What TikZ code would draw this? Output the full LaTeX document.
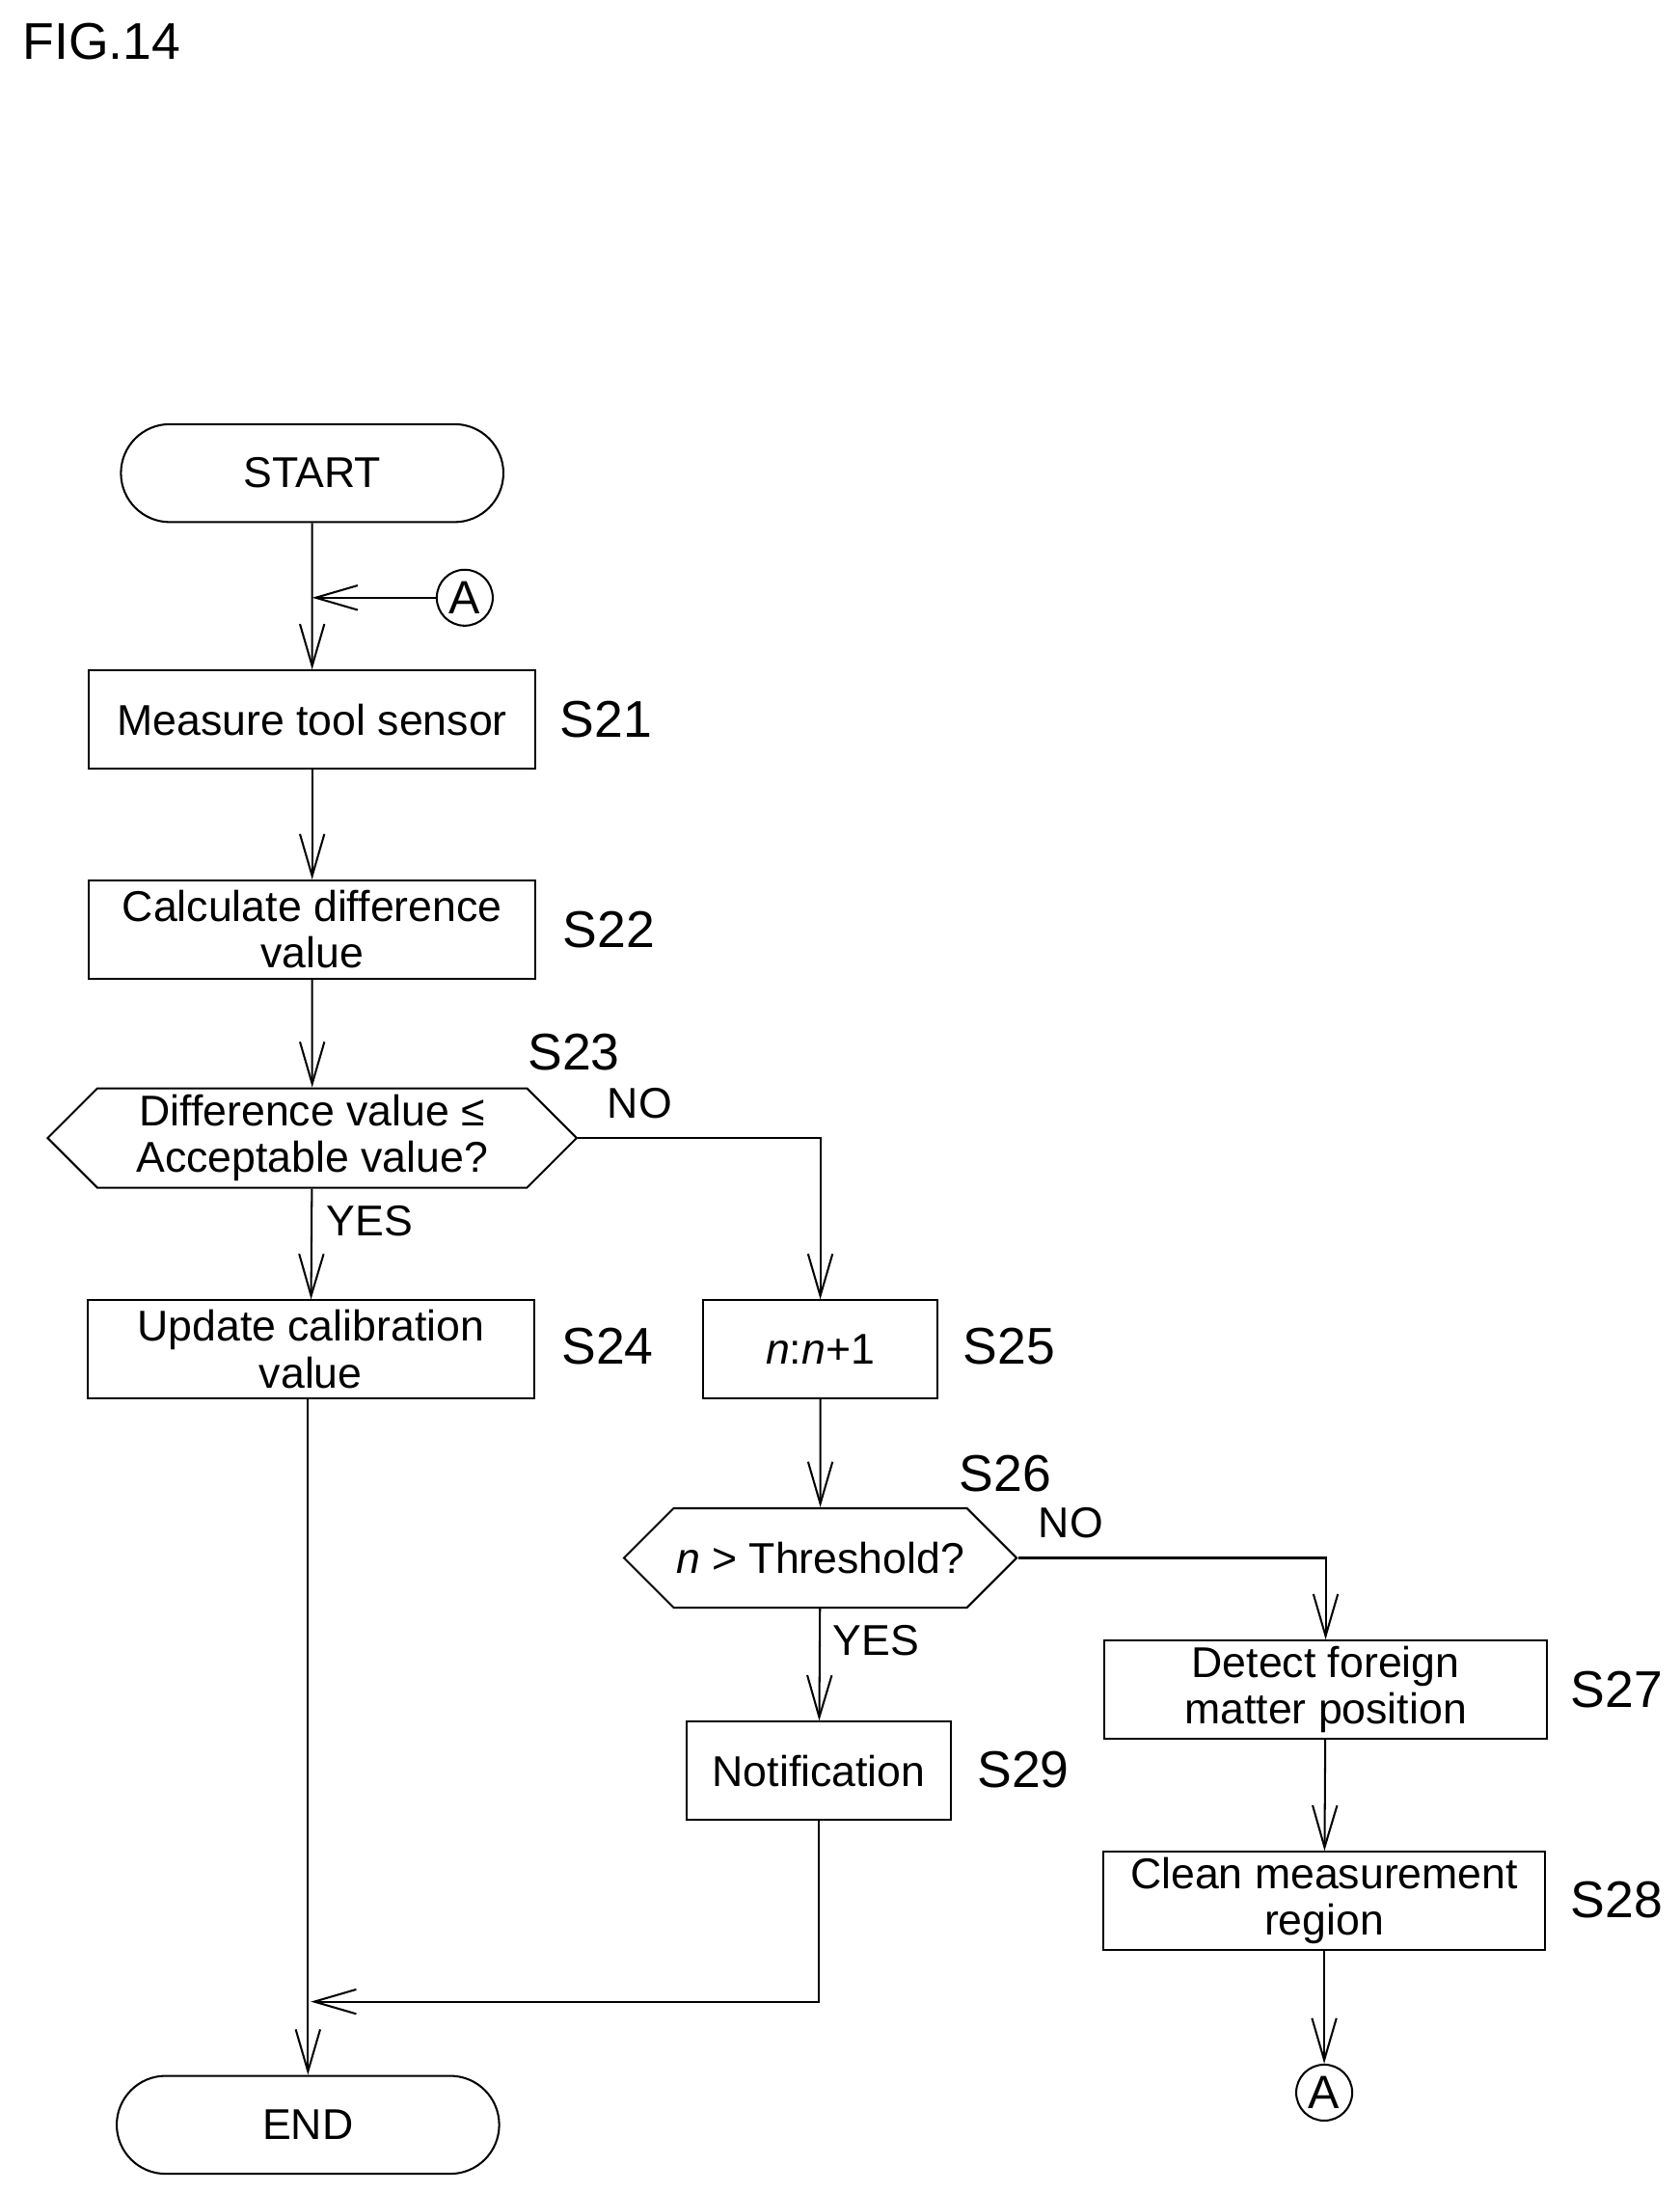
\documentclass[tikz,border=0pt]{standalone}
\usepackage{fontspec}
\setmainfont{Liberation Sans}
\usetikzlibrary{shapes.misc,shapes.symbols,arrows.meta}
\tikzset{
  box/.style={draw, thick, minimum width=6.38cm, minimum height=1.4cm, align=center, inner sep=2pt, font=\fontsize{17.5}{19}\selectfont},
  term/.style={draw, thick, rounded rectangle, minimum width=5.7cm, minimum height=1.4cm, font=\fontsize{17.5}{19}\selectfont},
  dec/.style={draw, thick, signal, signal to=east and west, signal pointer angle=90, minimum height=1.42cm, align=center, inner sep=1pt, font=\fontsize{17.5}{19}\selectfont},
  con/.style={draw, thick, circle, minimum size=0.8cm, inner sep=0pt, font=\fontsize{19}{21}\selectfont},
  steplbl/.style={font=\fontsize{21}{23}\selectfont},
  lbl/.style={font=\fontsize{17.5}{19}\selectfont},
  flow/.style={thick, -{Straight Barb[length=0.6cm, width=0.35cm]}}
}
\begin{document}
\begin{tikzpicture}[x=0.02cm, y=-0.02cm]
  \useasboundingbox (0,0) rectangle (1200,1566);
  \node[anchor=west, font=\fontsize{21}{23}\selectfont] (fig) at (10,30) {FIG.14};

  % left branch
  \node[term] (start) at (223,338) {START};
  \node[con] (a1) at (332,427) {A};
  \node[box] (s21) at (223,514) {Measure tool sensor};
  \node[box] (s22) at (223,664) {Calculate difference\\value};
  \node[dec, minimum width=7.56cm] (s23) at (223,813) {Difference value ≤\\Acceptable value?};
  \node[box] (s24) at (222,964) {Update calibration\\value};
  \node[term] (end) at (220,1518) {END};

  % right branches
  \node[box, minimum width=3.34cm] (s25) at (586,964) {\textit{n}:\textit{n}+1};
  \node[dec, minimum width=5.42cm] (s26) at (586,1113) {\textit{n} > Threshold?};
  \node[box, minimum width=3.78cm] (s29) at (585,1265) {Notification};
  \node[box, minimum width=6.32cm] (s27) at (947,1207) {Detect foreign\\matter position};
  \node[box, minimum width=6.32cm] (s28) at (946,1358) {Clean measurement\\region};
  \node[con] (a2) at (946,1495) {A};

  % step labels
  \node[steplbl] (l21) at (433,514) {S21};
  \node[steplbl] (l22) at (435,664) {S22};
  \node[steplbl] (l23) at (410,752) {S23};
  \node[steplbl] (l24) at (434,962) {S24};
  \node[steplbl] (l25) at (721,962) {S25};
  \node[steplbl] (l26) at (718,1053) {S26};
  \node[steplbl] (l27) at (1155,1207) {S27};
  \node[steplbl] (l28) at (1155,1357) {S28};
  \node[steplbl] (l29) at (731,1264) {S29};
  \node[lbl] (no1) at (457,788) {NO};
  \node[lbl] (yes1) at (264,872) {YES};
  \node[lbl] (no2) at (765,1088) {NO};
  \node[lbl] (yes2) at (626,1172) {YES};

  \coordinate (j1) at (223,427);
  \coordinate (j2) at (222,1430);
  \draw[flow] (start) -- (s21);
  \draw[flow] (a1) -- (j1);
  \draw[flow] (s21) -- (s22);
  \draw[flow] (s22) -- (s23);
  \draw[flow] (s23) -- (s24);
  \draw[flow] (s23.east) -| (s25);
  \draw[flow] (s25) -- (s26);
  \draw[flow] (s26) -- (s29);
  \draw[flow] (s26.east) -| (s27);
  \draw[flow] (s27) -- (s28);
  \draw[flow] (s28) -- (a2);
  \draw[flow] (s24.south -| end.north) -- (end.north);
  \draw[flow] (s29.south) |- (j2);
\end{tikzpicture}
\end{document}
